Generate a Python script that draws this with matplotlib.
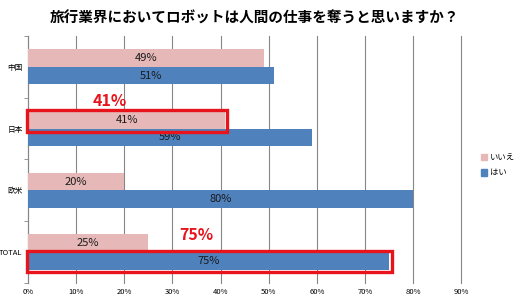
import numpy as np
import matplotlib
matplotlib.use("Agg")
import matplotlib.pyplot as plt
from matplotlib.patches import Rectangle, Patch

plt.rcParams['font.family'] = ['Noto Sans CJK JP', 'DejaVu Sans']

# data
title = '旅行業界においてロボットは人間の仕事を奪うと思いますか？'
categories = ['中国', '日本', '欧米', 'TOTAL']
no_vals = [49, 41, 20, 25]     # いいえ
yes_vals = [51, 59, 80, 75]    # はい
series_names = ['いいえ', 'はい']
xticks = [0, 10, 20, 30, 40, 50, 60, 70, 80, 90]

pink = '#E6B9B8'
blue = '#4F81BD'
red = '#E8141B'

fig = plt.figure(figsize=(5.2, 3.0), dpi=100)
ax = fig.add_axes([0.054, 0.057, 0.833, 0.823])

y = np.arange(len(categories))
h = 0.285
ax.barh(y - h / 2, no_vals, height=h, color=pink, zorder=3)
ax.barh(y + h / 2, yes_vals, height=h, color=blue, zorder=3)

for i in range(len(categories)):
    ax.text(no_vals[i] / 2, y[i] - h / 2, f'{no_vals[i]}%', ha='center', va='center',
            fontsize=8, color='#1a1a1a', zorder=4)
    ax.text(yes_vals[i] / 2, y[i] + h / 2, f'{yes_vals[i]}%', ha='center', va='center',
            fontsize=8, color='#1a1a1a', zorder=4)

# highlight boxes
# 日本 いいえ
i = 1
ax.add_patch(Rectangle((-0.3, y[i] - h - 0.01), no_vals[i] + 0.6, h + 0.06,
                       fill=False, ec=red, lw=2.4, zorder=5, clip_on=False))
ax.text(17, y[i] - 0.45, f'{no_vals[i]}%', ha='center', va='center',
        fontsize=11.5, fontweight='bold', color=red, zorder=5)
# TOTAL はい
i = 3
ax.add_patch(Rectangle((-0.3, y[i] - 0.01), yes_vals[i] + 0.9, h + 0.055,
                       fill=False, ec=red, lw=2.4, zorder=5, clip_on=False))
ax.text(35, y[i] - 0.28, f'{yes_vals[i]}%', ha='center', va='center',
        fontsize=11.5, fontweight='bold', color=red, zorder=5)

ax.set_xlim(0, 90)
ax.set_ylim(len(categories) - 0.5, -0.5)
ax.set_xticks(xticks)
ax.set_xticklabels([f'{t}%' for t in xticks], fontsize=5.5)
ax.set_yticks(y)
ax.set_yticklabels(categories, fontsize=5.5)
ax.set_yticks(np.arange(len(categories) + 1) - 0.5, minor=True)
ax.tick_params(axis='y', which='major', length=0, pad=4)
ax.tick_params(axis='y', which='minor', length=3, color='#868686')
ax.tick_params(axis='x', length=0, pad=4)
ax.xaxis.grid(True, color='#868686', lw=0.8, zorder=0)
for gl in ax.get_xgridlines():
    gl.set_clip_on(False)
for s in ['top', 'right']:
    ax.spines[s].set_visible(False)
ax.spines['bottom'].set_visible(False)
ax.spines['left'].set_color('#868686')

fig.text(0.49, 0.94, title, ha='center', va='center', fontsize=10.5, fontweight='bold')

handles = [Patch(color=pink), Patch(color=blue)]
fig.legend(handles, series_names, loc='center left', bbox_to_anchor=(0.91, 0.45),
           frameon=False, fontsize=6, handlelength=0.8, handleheight=0.8,
           handletextpad=0.3, labelspacing=0.8)

fig.savefig('out.png', dpi=100)
